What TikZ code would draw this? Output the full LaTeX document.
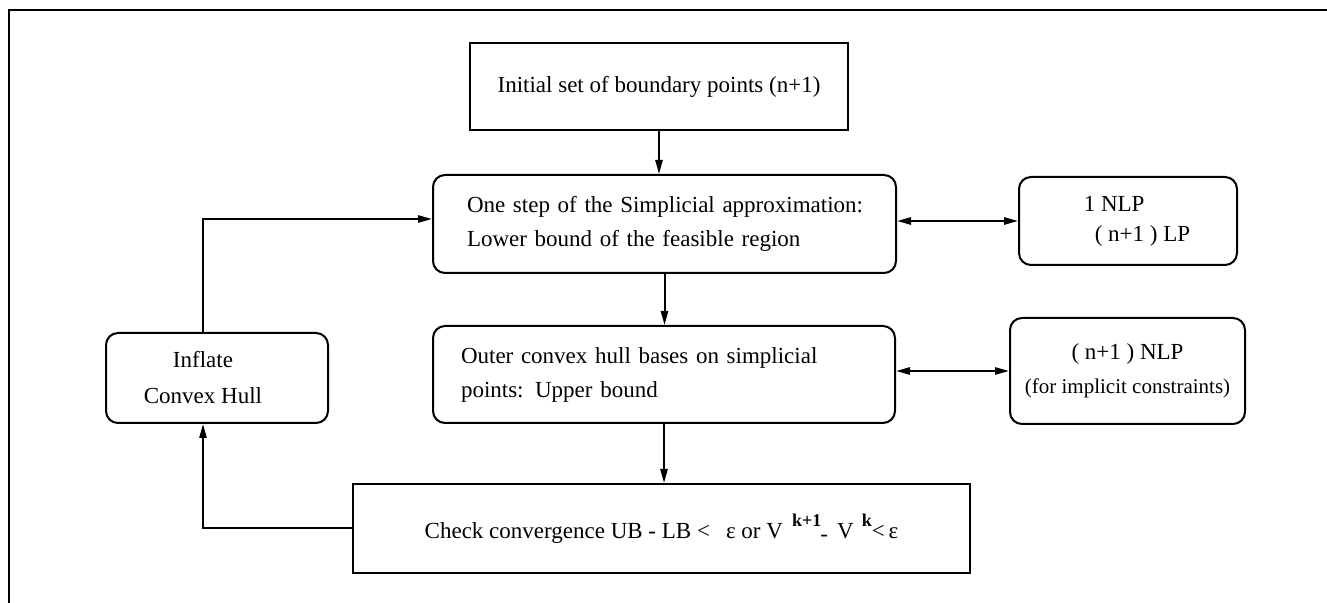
\documentclass[tikz,border=0pt]{standalone}
\usepackage{fontspec}
\setmainfont{Liberation Serif}
\usetikzlibrary{arrows.meta}

\begin{document}
\begin{tikzpicture}[x=0.5pt, y=-0.5pt, >={Triangle[length=7pt,width=3.6pt]}, line width=1pt]
            % Block styles
            \tikzstyle{block} = [rectangle, draw, align=center, font=\fontsize{11.5}{17}\selectfont]
            \tikzstyle{block_round} = [block, rounded corners=6pt]
            \useasboundingbox (0,0) rectangle (1327,603);
            % Frame
            \draw (9,603) -- (9,10) -- (1327,10);
            % Steps of the loop
            \node[block, minimum width=189pt, minimum height=43.5pt] (init) at (659,86.5) {Initial set of boundary points (n+1)};
            \node[block_round, align=left, text width=197.5pt, inner xsep=17pt, minimum height=49pt] (simplex) at (664.5,224) {\mbox{One step of the Simplicial approximation:}\\\mbox{Lower bound of the feasible region}};
            \node[block_round, align=left, text width=203pt, inner xsep=14pt, minimum height=48.5pt] (hull) at (664,374.5) {\mbox{Outer convex hull bases on simplicial}\\\mbox{points: Upper bound}};
            \node[block, minimum width=308.5pt, minimum height=44.5pt] (check) at (661.5,528.5) {Check convergence UB - LB <\hspace{0.7em}ε or V\hspace{0.4em}\raisebox{1.1ex}{\fontsize{9}{9}\selectfont\bfseries k+1}\hspace{-0.05em}\raisebox{-0.3ex}{-}\hspace{0.4em}V\hspace{0.35em}\raisebox{1.1ex}{\fontsize{9}{9}\selectfont\bfseries k}<\,ε};
            \node[block_round, minimum width=111pt, minimum height=45pt, font=\fontsize{11.5}{18}\selectfont] (inflate) at (217,378) {Inflate\hspace*{14pt}\\Convex Hull\hspace*{14pt}};
            % Solver counts
            \node[block_round, align=left, minimum width=109pt, minimum height=44pt, font=\fontsize{11.5}{15}\selectfont] (nlp_one) at (1128,221) {\hspace*{9pt}1 NLP\\\hspace*{14.5pt}( n+1 ) LP};
            \node[block_round, minimum width=117.5pt, minimum height=53pt] (nlp_many) at (1127.5,371) {( n+1 ) NLP\\{\fontsize{10.5}{12}\selectfont (for implicit constraints)}};
            % Connections
            \draw[->] (init.south) -- (init.south |- simplex.north);
            \draw[->] (simplex.south) -- (simplex.south |- hull.north);
            \draw[->] (hull.south) -- (hull.south |- check.north);
            \draw[<->] (simplex.east |- nlp_one.west) -- (nlp_one.west);
            \draw[<->] (hull.east |- nlp_many.west) -- (nlp_many.west);
            \draw[->] (check.west) -| ([xshift=-7pt]inflate.south);
            \draw[->] ([xshift=-7pt]inflate.north) |- ([yshift=2.5pt]simplex.west);
\end{tikzpicture}
\end{document}
